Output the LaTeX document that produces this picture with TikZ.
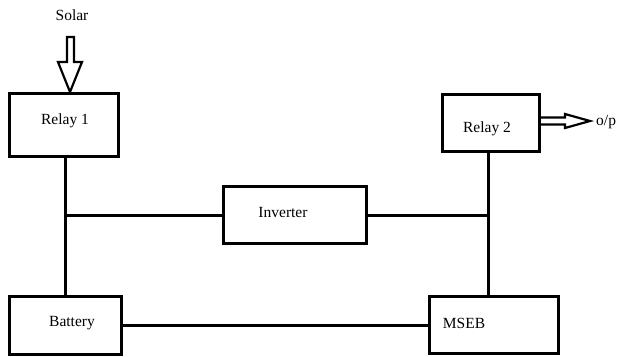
\documentclass[tikz,border=0pt]{standalone}
\usepackage{fontspec}
\setmainfont{Liberation Serif}
\begin{document}
\begin{tikzpicture}[x=1pt,y=-1pt,
  blk/.style={draw,line width=3pt,inner sep=0pt,minimum width=#1},
  lbl/.style={font=\fontsize{15.5}{18}\selectfont,inner sep=0pt},
  wire/.style={line width=3pt},
  hollow/.style={line width=2.2pt,line join=miter}]
\useasboundingbox (0,0) rectangle (618,356);
\node[blk=109pt,minimum height=63pt] (r1) at (63.5,124.5) {};
\node[blk=97pt,minimum height=57pt] (r2) at (490.5,122.5) {};
\node[blk=143pt,minimum height=57pt] (inv) at (294.5,215) {};
\node[blk=112pt,minimum height=58pt] (bat) at (65,325) {};
\node[blk=129pt,minimum height=57pt] (ms) at (493.5,325) {};
\node[lbl] (t1) at (65,121) {Relay 1};
\node[lbl] (t2) at (487,129) {Relay 2};
\node[lbl] (ti) at (283,212) {Inverter};
\node[lbl] (tb) at (72,323) {Battery};
\node[lbl] (tm) at (464,323) {MSEB};
\node[lbl] (sol) at (72,15) {Solar};
\node[lbl,anchor=west] (op) at (596,122) {o/p};
\coordinate (c2) at (488,0);
\draw[wire] (r1.south -| bat.north) -- (bat.north);
\draw[wire] (r2.south -| c2) -- (ms.north -| c2);
\draw[wire] (inv.west) -- (inv.west -| bat.north);
\draw[wire] (inv.east) -- (inv.east -| c2);
\draw[wire] (bat.east) -- (ms.west);
% hollow arrows
\draw[hollow] (67,37) -- (74,37) -- (74,62) -- (82,62) -- (70,92) -- (58,62) -- (67,62) -- cycle;
\draw[hollow] (r2.east |- 0,117.5) -- (565,117.5) -- (565,114) -- (590,121) -- (565,128) -- (565,124.5) -- (r2.east |- 0,124.5);
\end{tikzpicture}
\end{document}
